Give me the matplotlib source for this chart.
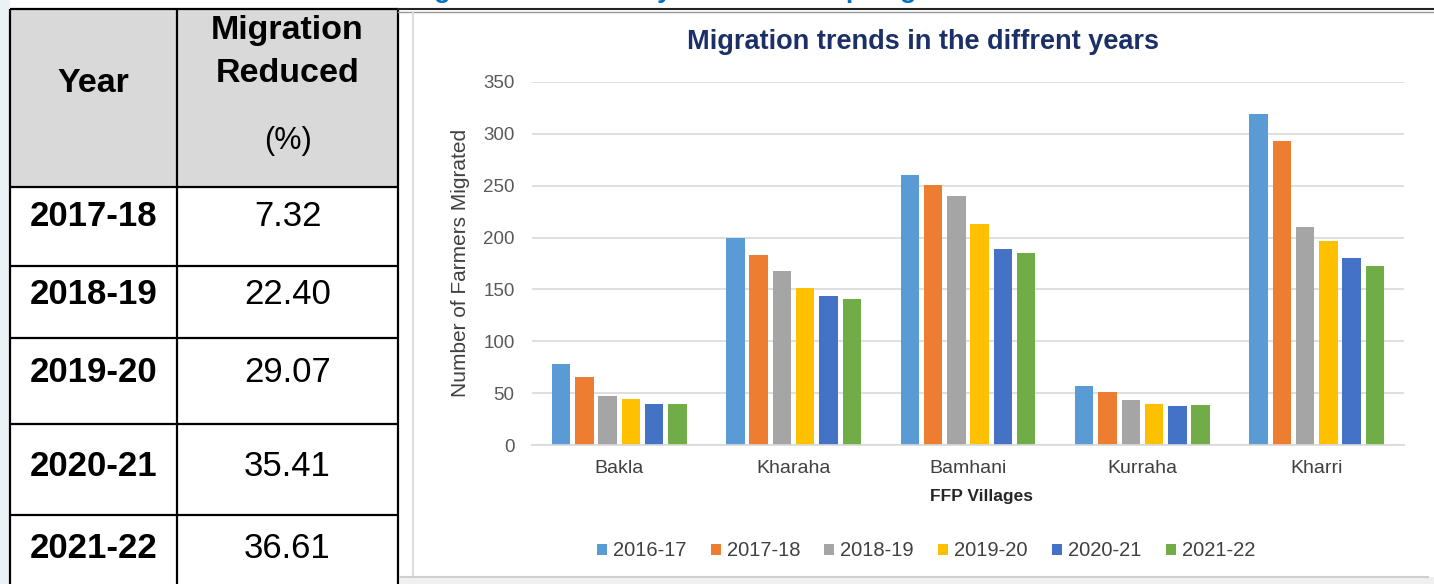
import matplotlib
matplotlib.use("Agg")
import matplotlib.pyplot as plt
import numpy as np
from matplotlib.patches import Rectangle

plt.rcParams['font.family'] = ['Liberation Sans', 'DejaVu Sans']

# bar chart data
villages = ["Bakla", "Kharaha", "Bamhani", "Kurraha", "Kharri"]
years = ["2016-17", "2017-18", "2018-19", "2019-20", "2020-21", "2021-22"]
y2016_17 = [78, 200, 260, 57, 319]
y2017_18 = [66, 183, 251, 51, 293]
y2018_19 = [47, 168, 240, 43, 210]
y2019_20 = [44, 151, 213, 40, 197]
y2020_21 = [40, 144, 189, 38, 180]
y2021_22 = [40, 141, 185, 39, 173]
colors = ["#5B9BD5", "#ED7D31", "#A5A5A5", "#FFC000", "#4472C4", "#70AD47"]

# table data
tbl_years = ["2017-18", "2018-19", "2019-20", "2020-21", "2021-22"]
tbl_reduced = ["7.32", "22.40", "29.07", "35.41", "36.61"]

W, H = 1434, 584
fig = plt.figure(figsize=(W / 100, H / 100), dpi=100)

# background layer in pixel coords (table + frame)
bg = fig.add_axes([0, 0, 1, 1])
bg.set_xlim(0, W)
bg.set_ylim(H, 0)
bg.axis("off")

bg.add_patch(Rectangle((0, 0), 10, H, color="#eaf2f6", lw=0))
# heading of the page, cut off by the top edge like in the source screenshot
bg.text(405, -2, "Migration reduced by the FFP Group migration", color="#0070C0",
        fontsize=19, fontweight="bold", ha="left", va="baseline", clip_on=True)

# table
tx0, tx1, tx2 = 10, 177, 398
rows = [187, 266, 338, 424, 515, H + 5]
row_text_y = [217, 295, 372, 467, 549]
bg.add_patch(Rectangle((tx0, 9), tx2 - tx0, rows[0] - 9, color="#d9d9d9", lw=0))
bg.add_patch(Rectangle((tx0, rows[0]), tx2 - tx0, H - rows[0], color="white", lw=0))
for xv in (tx0, tx1, tx2):
    bg.plot([xv, xv], [9, H], color="black", lw=1.6, solid_capstyle="butt")
for yv in [9] + rows[:-1]:
    bg.plot([tx0, tx2], [yv, yv], color="black", lw=1.6, solid_capstyle="butt")

bg.text((tx0 + tx1) / 2, 83, "Year", fontsize=24.5, fontweight="bold", ha="center", va="center")
bg.text((tx1 + tx2) / 2, 31, "Migration", fontsize=24.5, fontweight="bold", ha="center", va="center")
bg.text((tx1 + tx2) / 2, 73, "Reduced", fontsize=24.5, fontweight="bold", ha="center", va="center")
bg.text((tx1 + tx2) / 2, 141, "(%)", fontsize=22, ha="center", va="center")
for yr, val, ty in zip(tbl_years, tbl_reduced, row_text_y):
    bg.text((tx0 + tx1) / 2, ty, yr, fontsize=25, fontweight="bold", ha="center", va="center")
    bg.text((tx1 + tx2) / 2, ty, val, fontsize=25, ha="center", va="center")

# chart frame lines
bg.plot([tx2, W], [9, 9], color="#222222", lw=1.5)
bg.plot([tx2, W], [11.5, 11.5], color="#999999", lw=1)
bg.plot([413, 413], [12, 577], color="#dcdcdc", lw=1.5)
bg.add_patch(Rectangle((400, 577), W - 400, H - 577, color="#f0f0f0", lw=0))
bg.plot([400, 1428], [577, 577], color="#cfcfcf", lw=1.5)

bg.text(923, 42, "Migration trends in the diffrent years", color="#1C2F66",
        fontsize=19.5, fontweight="bold", ha="center", va="center")
bg.text(461, 263, "Number of Farmers Migrated", color="#404040",
        fontsize=15, rotation=90, ha="center", va="center")
bg.text(981, 497, "FFP Villages", color="#262626",
        fontsize=12.5, fontweight="bold", ha="center", va="center")

# bar chart
ax = fig.add_axes([532 / W, (H - 445) / H, 872 / W, 363 / H])
series = [y2016_17, y2017_18, y2018_19, y2019_20, y2020_21, y2021_22]
x = np.arange(len(villages))
pitch = 0.1335
for i, vals in enumerate(series):
    ax.bar(x + (i - 2.5) * pitch, vals, 0.106, color=colors[i], label=years[i])

ax.set_xlim(-0.5, 4.5)
ax.set_ylim(0, 350)
ax.set_yticks(range(0, 351, 50))
ax.set_xticks(x)
ax.set_xticklabels(villages)
ax.yaxis.grid(True, color="#d9d9d9", lw=1.2)
ax.set_axisbelow(True)
for s in ("top", "right", "left"):
    ax.spines[s].set_visible(False)
ax.spines["bottom"].set_color("#d9d9d9")
ax.spines["bottom"].set_linewidth(1.2)
ax.tick_params(axis="y", length=0, pad=12.5, labelsize=13.5, labelcolor="#595959")
ax.tick_params(axis="x", length=0, pad=11, labelsize=14, labelcolor="#404040")

ax.legend(loc="center", bbox_to_anchor=(926 / W, 1 - 551 / H), bbox_transform=fig.transFigure,
          ncol=6, frameon=False, fontsize=14.5, handlelength=0.5, handleheight=0.5,
          handletextpad=0.3, columnspacing=1.2, labelcolor="#404040")

fig.savefig("out.png", dpi=100)
